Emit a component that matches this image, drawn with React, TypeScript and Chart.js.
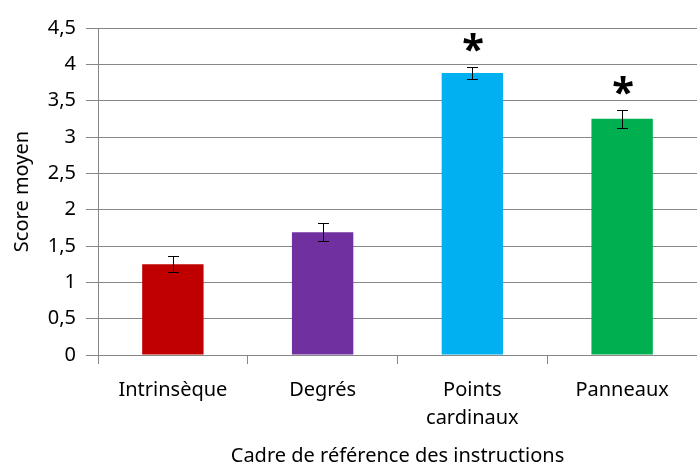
import React, { useEffect, useRef } from "react";
import { Chart, registerables } from "chart.js";

Chart.register(...registerables);

const categories: (string | string[])[] = ["Intrinsèque", "Degrés", ["Points", "cardinaux"], "Panneaux"];
const means = [1.25, 1.69, 3.88, 3.25];
const errors = [0.11, 0.12, 0.08, 0.12];
const significant = [false, false, true, true];
const barColors = ["#C00000", "#7030A0", "#00B0F0", "#00B050"];
const yTickValues = [0, 0.5, 1, 1.5, 2, 2.5, 3, 3.5, 4, 4.5];

const FONT = "'Noto Sans', sans-serif";
const GRID = "#868686";
const FS = 20;

const errorPlugin = {
  id: "errorBars",
  afterDatasetsDraw(chart: any) {
    const ctx = chart.ctx;
    const meta = chart.getDatasetMeta(0);
    const y = chart.scales.y;
    ctx.save();
    meta.data.forEach((bar: any, i: number) => {
      const x = Math.round(bar.x);
      const top = Math.round(y.getPixelForValue(means[i] + errors[i]));
      const bot = Math.round(y.getPixelForValue(means[i] - errors[i]));
      ctx.strokeStyle = "#000";
      ctx.lineWidth = 1;
      ctx.beginPath();
      ctx.moveTo(x + 0.5, top);
      ctx.lineTo(x + 0.5, bot);
      ctx.moveTo(x - 5, top + 0.5);
      ctx.lineTo(x + 6, top + 0.5);
      ctx.moveTo(x - 5, bot + 0.5);
      ctx.lineTo(x + 6, bot + 0.5);
      ctx.stroke();
      if (significant[i]) {
        ctx.fillStyle = "#000";
        ctx.font = `bold 40px ${FONT}`;
        ctx.textAlign = "center";
        ctx.textBaseline = "alphabetic";
        ctx.fillText("*", x + 1, top - 4);
      }
    });
    ctx.restore();
  },
};

export default function App() {
  const ref = useRef<HTMLCanvasElement>(null);
  useEffect(() => {
    document.body.style.margin = "0";
    const chart = new Chart(ref.current!, {
      type: "bar",
      data: {
        labels: categories,
        datasets: [
          {
            data: means,
            backgroundColor: barColors,
            barPercentage: 0.41,
            categoryPercentage: 1,
          },
        ],
      },
      options: {
        animation: false,
        responsive: false,
        maintainAspectRatio: false,
        layout: { padding: { top: 28, right: 0, left: 10, bottom: 0 } },
        plugins: { legend: { display: false }, tooltip: { enabled: false } },
        scales: {
          x: {
            border: { color: GRID, width: 1 },
            grid: { drawOnChartArea: false, drawTicks: true, tickLength: 9, color: GRID, offset: true },
            ticks: {
              color: "#000",
              font: { family: FONT, size: FS, lineHeight: 1.4 },
              padding: 12,
              maxRotation: 0,
            },
            afterFit: (axis: any) => {
              axis.height = 109;
            },
            title: {
              display: true,
              text: "Cadre de référence des instructions",
              color: "#000",
              font: { family: FONT, size: FS },
              padding: { top: 0, bottom: -4 },
            },
          },
          y: {
            min: 0,
            max: 4.5,
            border: { color: GRID, width: 1 },
            grid: { color: GRID, tickLength: 12, lineWidth: 1 },
            afterBuildTicks: (axis: any) => {
              axis.ticks = yTickValues.map((v) => ({ value: v }));
            },
            afterFit: (axis: any) => {
              axis.width = 88;
            },
            ticks: {
              color: "#000",
              font: { family: FONT, size: FS },
              padding: 10,
              callback: (v: any) => String(v).replace(".", ","),
            },
            title: {
              display: true,
              text: "Score moyen",
              color: "#000",
              font: { family: FONT, size: FS },
              padding: { top: 0, bottom: 0 },
            },
          },
        },
      },
      plugins: [errorPlugin],
    });
    return () => chart.destroy();
  }, []);
  return <canvas ref={ref} width={697} height={464} style={{ display: "block" }} />;
}
